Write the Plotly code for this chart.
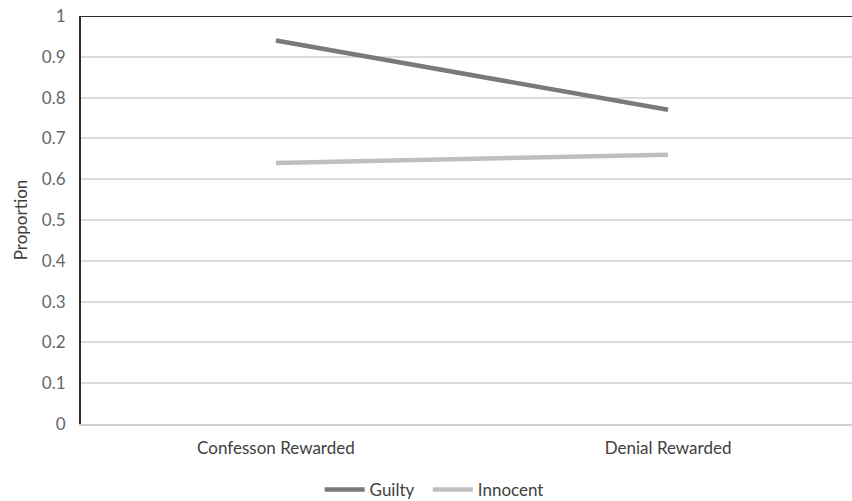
import plotly.graph_objects as go

categories = ["Confesson Rewarded", "Denial Rewarded"]
guilty = [0.94, 0.77]
innocent = [0.64, 0.66]
y_ticks = [0, 0.1, 0.2, 0.3, 0.4, 0.5, 0.6, 0.7, 0.8, 0.9, 1]
y_tick_text = ["0", "0.1", "0.2", "0.3", "0.4", "0.5", "0.6", "0.7", "0.8", "0.9", "1"]

font_family = "Lato, Open Sans, sans-serif"
fs = 17

fig = go.Figure()
fig.add_trace(go.Scatter(
    x=categories, y=guilty, name="Guilty\u2002", mode="lines",
    line=dict(color="#7a7a7c", width=4.5),
))
fig.add_trace(go.Scatter(
    x=categories, y=innocent, name="Innocent", mode="lines",
    line=dict(color="#bfbfc1", width=4.5),
))

# top frame line of the plot area
fig.add_shape(type="line", xref="paper", yref="y", x0=0, x1=1, y0=1, y1=1,
              line=dict(color="#2b2b2b", width=2))

fig.update_layout(
    width=852, height=501,
    margin=dict(l=81, r=0, t=16, b=77, autoexpand=False),
    paper_bgcolor="white", plot_bgcolor="white",
    font=dict(family=font_family, size=fs, color="#595959"),
    showlegend=True,
    legend=dict(orientation="h", x=0.458, xanchor="center",
                yref="container", y=0.022, yanchor="middle",
                font=dict(size=fs, color="#404040"), itemwidth=40,
                tracegroupgap=0),
    xaxis=dict(
        type="category", range=[-0.497, 1.469],
        showgrid=False, zeroline=False,
        showline=True, linecolor="#d0d0d0", linewidth=2,
        ticks="", tickfont=dict(size=fs, color="#404040"),
        ticklabelstandoff=8,
    ),
    yaxis=dict(
        range=[0, 1], tickvals=y_ticks, ticktext=y_tick_text,
        showgrid=True, gridcolor="#dcdcdc", gridwidth=1.5,
        zeroline=False,
        showline=True, linecolor="#2b2b2b", linewidth=2,
        ticks="", ticklabelstandoff=10,
        tickfont=dict(size=fs, color="#666666"),
        title=dict(text="Proportion", font=dict(size=fs, color="#404040"), standoff=10),
    ),
)

fig.write_html("out.html")
